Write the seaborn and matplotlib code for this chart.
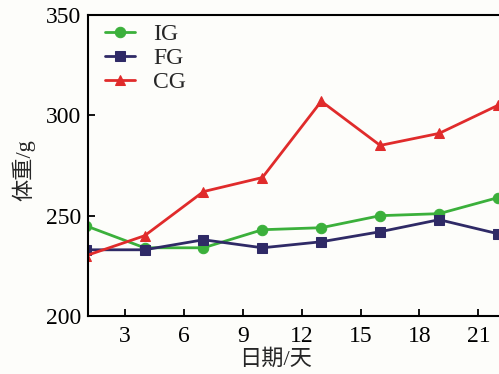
import pandas as pd
import numpy as np
import seaborn as sns
import matplotlib.pyplot as plt

# datos
dias = [1, 4, 7, 10, 13, 16, 19, 22]
ig = [245, 234, 234, 243, 244, 250, 251, 259]
fg = [233, 233, 238, 234, 237, 242, 248, 241]
cg = [230, 240, 262, 269, 307, 285, 291, 305]
grupos = ['IG', 'FG', 'CG']
colores = ['#3bb03b', '#2f2a66', '#e02b2b']
marcadores = ['o', 's', '^']

sns.set_style('ticks')
plt.rcParams['font.family'] = ['Liberation Serif', 'Noto Sans CJK SC']

fig = plt.figure(figsize=(4.99, 3.74), dpi=100, facecolor='#fdfdfa')
ax = fig.add_axes([0.1764, 0.155, 0.8236, 0.805])
ax.set_facecolor('#fdfdfa')

for g, vals, c, m in zip(grupos, [ig, fg, cg], colores, marcadores):
    sns.lineplot(x=dias, y=vals, ax=ax, color=c, marker=m, markersize=7.5,
                 markeredgecolor=c, linewidth=2, label=g)

ax.set_xlim(1.12, 22.05)
ax.set_ylim(200, 350)
ax.set_xticks([3, 6, 9, 12, 15, 18, 21])
ax.set_yticks([200, 250, 300, 350])
ax.tick_params(direction='in', length=5, width=1.3, labelsize=17, colors='black')
ax.tick_params(axis='x', pad=7)
ax.tick_params(axis='y', pad=5)
ax.set_xlabel('日期/天', fontsize=16)
ax.set_ylabel('体重/g', fontsize=16)
ax.xaxis.set_label_coords(0.457, -0.11)
ax.yaxis.set_label_coords(-0.128, 0.485)
for s in ['left', 'bottom', 'top']:
    ax.spines[s].set_linewidth(1.5)
    ax.spines[s].set_color('black')
ax.spines['right'].set_visible(False)

ax.legend(loc='upper left', bbox_to_anchor=(0.029, 0.987), frameon=False,
          fontsize=17, handlelength=1.3, borderpad=0.2, borderaxespad=0,
          labelspacing=0.1, handletextpad=0.75)

fig.savefig('out.png', dpi=100, facecolor=fig.get_facecolor())
